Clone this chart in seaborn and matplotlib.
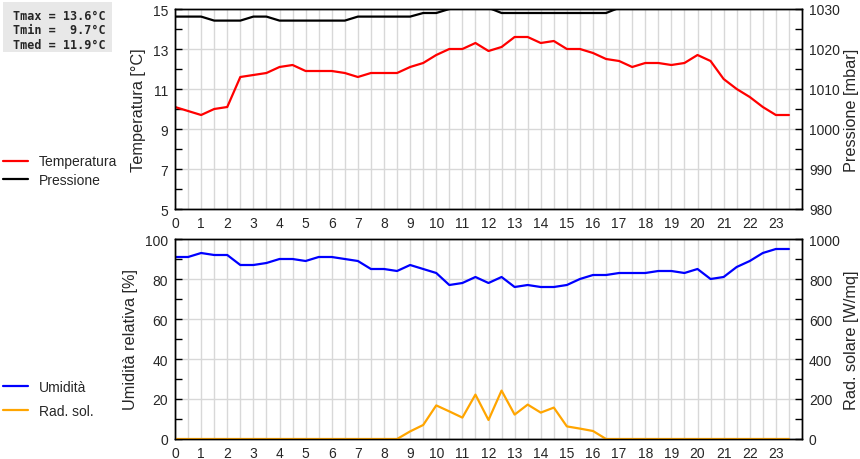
import numpy as np
import pandas as pd
import matplotlib
matplotlib.use('Agg')
import matplotlib.pyplot as plt
from matplotlib.patches import Rectangle
from matplotlib.ticker import MultipleLocator, FixedLocator
import seaborn as sns

# half-hourly readings, 00:00 .. 23:30
hours = np.arange(0, 24, 0.5)
temperatura = [10.1, 9.9, 9.7, 10.0, 10.1, 11.6, 11.7, 11.8, 12.1, 12.2, 11.9, 11.9,
               11.9, 11.8, 11.6, 11.8, 11.8, 11.8, 12.1, 12.3, 12.7, 13.0, 13.0, 13.3,
               12.9, 13.1, 13.6, 13.6, 13.3, 13.4, 13.0, 13.0, 12.8, 12.5, 12.4, 12.1,
               12.3, 12.3, 12.2, 12.3, 12.7, 12.4, 11.5, 11.0, 10.6, 10.1, 9.7, 9.7]
pressione = [1028.1, 1028.1, 1028.1, 1027.1, 1027.1, 1027.1, 1028.1, 1028.1, 1027.1, 1027.1,
             1027.1, 1027.1, 1027.1, 1027.1, 1028.1, 1028.1, 1028.1, 1028.1, 1028.1, 1029.0,
             1029.0, 1030.0, 1030.5, 1030.5, 1030.3, 1029.0, 1029.0, 1029.0, 1029.0, 1029.0,
             1029.0, 1029.0, 1029.0, 1029.0, 1030.3, 1030.5, 1030.5, 1030.5, 1030.5, 1030.5,
             1030.5, 1030.5, 1030.5, 1030.5, 1030.5, 1030.5, 1030.5, 1030.5]
umidita = [91, 91, 93, 92, 92, 87, 87, 88, 90, 90, 89, 91, 91, 90, 89, 85, 85, 84, 87, 85,
           83, 77, 78, 81, 78, 81, 76, 77, 76, 76, 77, 80, 82, 82, 83, 83, 83, 84, 84, 83,
           85, 80, 81, 86, 89, 93, 95, 95]
rad_sol = [0, 0, 0, 0, 0, 0, 0, 0, 0, 0, 0, 0, 0, 0, 0, 0, 0, 0,
           38, 70, 168, 138, 107, 222, 95, 242, 122, 172, 132, 157, 63, 52, 40, 0,
           0, 0, 0, 0, 0, 0, 0, 0, 0, 0, 0, 0, 0, 0]
temp_ticks = [5, 7, 9, 11, 13, 15]
press_ticks = [980, 990, 1000, 1010, 1020, 1030]
stats_text = "Tmax = 13.6°C\nTmin =  9.7°C\nTmed = 11.9°C"

sns.set_style("white")
plt.rcParams['font.family'] = ['Liberation Sans', 'DejaVu Sans']
plt.rcParams['font.size'] = 10

df = pd.DataFrame({'ora': hours, 'temp': temperatura, 'press': pressione,
                   'umid': umidita, 'rad': rad_sol})

fig = plt.figure(figsize=(8.6, 4.6), dpi=100)
ax1 = fig.add_axes([175 / 860, 1 - 210 / 460, 627 / 860, 200 / 460])
ax3 = fig.add_axes([175 / 860, 1 - 440 / 460, 627 / 860, 200 / 460])
ax2 = ax1.twinx()
ax4 = ax3.twinx()

sns.lineplot(data=df, x='ora', y='temp', ax=ax1, color='#ff0000', lw=1.6, legend=False)
sns.lineplot(data=df, x='ora', y='press', ax=ax2, color='black', lw=1.6, legend=False)
sns.lineplot(data=df, x='ora', y='umid', ax=ax3, color='#0000ff', lw=1.6, legend=False)
sns.lineplot(data=df, x='ora', y='rad', ax=ax4, color='#ffa500', lw=1.6, legend=False)

def style(ax, axr, ylim, rlim, ylabel, rlabel):
    ax.set_xlim(0, 24)
    ax.set_ylim(*ylim)
    axr.set_ylim(*rlim)
    ax.set_xticks(range(0, 24))
    ax.xaxis.set_minor_locator(MultipleLocator(0.5))
    ax.grid(True, which='both', axis='x', color='#d8d8d8', lw=1)
    ax.grid(True, which='major', axis='y', color='#d8d8d8', lw=1)
    ax.set_axisbelow(True)
    for a in (ax, axr):
        a.tick_params(which='both', direction='in', length=5, width=1, color='black',
                      labelsize=10, pad=5)
        for s in a.spines.values():
            s.set_color('black')
            s.set_linewidth(1)
    ax.set_xlabel('')
    ax.set_ylabel(ylabel, fontsize=11.7, labelpad=5)
    axr.set_ylabel(rlabel, fontsize=11.7, labelpad=3)

style(ax1, ax2, (5, 15), (980, 1030), 'Temperatura [°C]', 'Pressione [mbar]')
style(ax3, ax4, (0, 100), (0, 1000), 'Umidità relativa [%]', 'Rad. solare [W/mq]')

ax1.set_yticks(temp_ticks)
ax1.yaxis.set_minor_locator(FixedLocator([6, 8, 10, 12, 14]))
ax2.set_yticks(press_ticks)
ax2.yaxis.set_minor_locator(MultipleLocator(5))
ax3.yaxis.set_major_locator(MultipleLocator(20))
ax3.yaxis.set_minor_locator(MultipleLocator(10))
ax4.yaxis.set_major_locator(MultipleLocator(200))
ax4.yaxis.set_minor_locator(MultipleLocator(100))

# grey box behind the temperature summary
fig.patches.append(Rectangle((3 / 860, 1 - 53 / 460), 109 / 860, 50 / 460,
                             transform=fig.transFigure, fc='#e8e8e8', ec='none', zorder=0))
fig.text(13 / 860, 1 - 10 / 460, stats_text, family='DejaVu Sans Mono', weight='bold',
         fontsize=8.5, linespacing=1.13, va='top', ha='left')

fig.legend(handles=[ax1.get_lines()[0], ax2.get_lines()[0]],
           labels=['Temperatura', 'Pressione'],
           loc='center left', bbox_to_anchor=(0.004, 1 - 171.5 / 460),
           frameon=False, fontsize=10, handlelength=1.8, handletextpad=0.75,
           labelspacing=0.3, borderpad=0, borderaxespad=0)
fig.legend(handles=[ax3.get_lines()[0], ax4.get_lines()[0]],
           labels=['Umidità', 'Rad. sol.'],
           loc='center left', bbox_to_anchor=(0.004, 1 - 400 / 460),
           frameon=False, fontsize=10, handlelength=1.8, handletextpad=0.75,
           labelspacing=0.75, borderpad=0, borderaxespad=0)

fig.savefig('out.png', dpi=100)
plt.close(fig)
